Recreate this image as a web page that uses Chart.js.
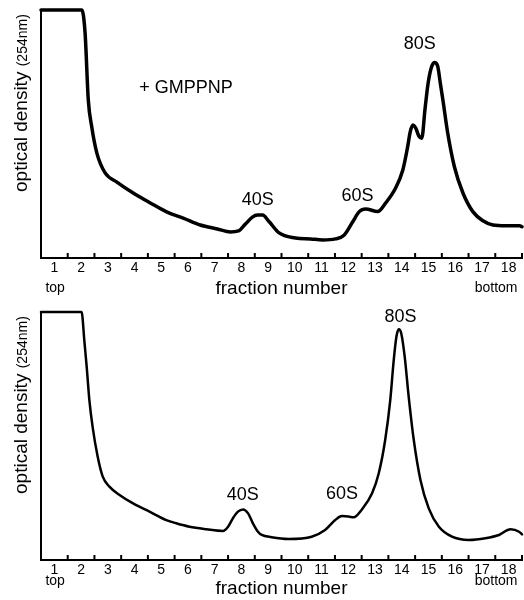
<!DOCTYPE html>
<html>
<head>
<meta charset="utf-8">
<script src="https://cdn.jsdelivr.net/npm/chart.js@4.4.1/dist/chart.umd.min.js"></script>
<style>
  body { margin: 0; background: #fff; }
  canvas { display: block; }
</style>
</head>
<body>
<canvas id="topChart" width="524" height="302"></canvas>
<canvas id="bottomChart" width="524" height="298"></canvas>
<script>
// fractions 1..18, tick marks sit on the boundaries between them
const fractionLabels = ['1', '2', '3', '4', '5', '6', '7', '8', '9', '10', '11', '12', '13', '14', '15', '16', '17', '18'];
const endLabels = ['top', 'bottom'];

// top panel (+ GMPPNP), x in fraction units from the start of the gradient
const topFraction = [0, 1.53, 1.65, 1.77, 1.90, 2.09, 2.40, 2.84, 3.45, 4.09, 4.72, 5.32, 5.96, 6.60, 7.09, 7.39, 7.65, 7.91, 8.10, 8.29, 8.54, 8.91, 9.52, 10.09, 10.54, 11.02, 11.35, 11.66, 11.91, 12.15, 12.60, 12.90, 13.27, 13.54, 13.72, 13.82, 13.92, 14.02, 14.14, 14.25, 14.37, 14.48, 14.60, 14.72, 14.84, 14.95, 15.04, 15.22, 15.47, 15.79, 16.16, 16.54, 16.91, 17.40, 17.91, 18.0];
const topOD = [100, 100, 90.7, 63.7, 52.8, 42.3, 34.3, 30.6, 26.2, 22.2, 18.5, 16.1, 13.3, 11.7, 10.5, 10.9, 13.7, 16.5, 17.3, 17.3, 14.6, 10.1, 8.1, 7.7, 7.3, 7.7, 9.3, 14.5, 18.7, 19.8, 18.7, 22.2, 28.2, 35.5, 44.8, 51.0, 53.6, 52.5, 49.2, 48.3, 60.0, 70.0, 76.5, 78.8, 77.5, 70.0, 63.7, 50.4, 36.8, 26.2, 18.7, 15.0, 13.3, 13.0, 13.0, 12.6];
const topNames = ['40S', '60S', '80S', '+ GMPPNP'];
const topNameX = [8.11, 11.84, 14.17, 5.43];
const topNameY = [23.4, 25.0, 86.1, 68.5];

// bottom panel (control)
const bottomFraction = [0, 1.52, 1.62, 1.71, 1.81, 1.93, 2.12, 2.31, 2.56, 2.94, 3.43, 4.06, 4.69, 5.06, 5.56, 6.19, 6.81, 7.00, 7.18, 7.37, 7.56, 7.75, 7.93, 8.12, 8.26, 8.63, 9.26, 10.13, 10.63, 11.01, 11.26, 11.51, 11.70, 12.01, 12.39, 12.64, 12.88, 13.07, 13.20, 13.30, 13.39, 13.48, 13.61, 13.76, 13.95, 14.20, 14.51, 14.89, 15.38, 16.01, 16.63, 17.14, 17.57, 17.89, 18.0];
const bottomOD = [100, 100, 88.7, 77.9, 64.5, 53.8, 41.7, 33.6, 29.6, 26.2, 22.9, 19.5, 16.1, 14.8, 13.4, 12.4, 11.7, 13.4, 16.8, 19.5, 20.4, 18.8, 14.8, 11.4, 10.1, 9.2, 8.5, 9.4, 12.1, 16.1, 17.7, 17.5, 17.2, 20.4, 26.9, 35.0, 48.4, 64.5, 80.6, 90.0, 93.0, 91.4, 82.0, 65.8, 48.4, 32.3, 20.8, 13.4, 9.4, 8.1, 8.8, 10.1, 12.4, 11.4, 10.3];
const bottomNames = ['40S', '60S', '80S'];
const bottomNameX = [7.55, 11.26, 13.45];
const bottomNameY = [26.2, 26.4, 97.8];

const FONT = '"Liberation Sans", Arial, Helvetica, sans-serif';
Chart.defaults.font.family = FONT;
Chart.defaults.color = '#000';

const notesPlugin = {
    id: 'notes',
    afterDraw(chart, args, opts) {
        const { ctx, chartArea } = chart;
        const x = chart.scales.x;
        const y = chart.scales.y;
        ctx.save();
        ctx.fillStyle = '#000';
        ctx.strokeStyle = '#000';

        // tick marks pointing into the plot
        ctx.lineWidth = 2;
        for (let i = 1; i <= fractionLabels.length; i++) {
            const px = x.getPixelForValue(i);
            ctx.beginPath();
            ctx.moveTo(px, chartArea.bottom);
            ctx.lineTo(px, chartArea.bottom - 5);
            ctx.stroke();
        }

        // peak names
        ctx.textAlign = 'center';
        ctx.textBaseline = 'middle';
        ctx.font = '18px ' + FONT;
        opts.names.forEach((n, i) => {
            ctx.fillText(n, x.getPixelForValue(opts.nameX[i]), y.getPixelForValue(opts.nameY[i]));
        });

        // top / bottom of the gradient
        ctx.font = '14px ' + FONT;
        ctx.fillText(endLabels[0], x.getPixelForValue(0.53), chartArea.bottom + opts.endOffset);
        ctx.fillText(endLabels[1], x.getPixelForValue(17.03), chartArea.bottom + opts.endOffset);

        // y axis title, two sizes
        ctx.translate(27, chartArea.top + 182);
        ctx.rotate(-Math.PI / 2);
        ctx.textAlign = 'left';
        ctx.textBaseline = 'alphabetic';
        ctx.font = '19px ' + FONT;
        const main = 'optical density ';
        ctx.fillText(main, 0, 0);
        const w = ctx.measureText(main).width;
        ctx.font = '14px ' + FONT;
        ctx.fillText('(254nm)', w, 0);
        ctx.restore();
    }
};

function makeChart(id, xs, ys, lineWidth, notes, axisHeight, titlePad) {
    const ctx = document.getElementById(id).getContext('2d');
    return new Chart(ctx, {
        type: 'line',
        data: {
            datasets: [{
                data: xs.map((v, i) => ({ x: v, y: ys[i] })),
                borderColor: '#000',
                borderWidth: lineWidth,
                pointRadius: 0,
                fill: false,
                cubicInterpolationMode: 'monotone',
                borderJoinStyle: 'round',
                borderCapStyle: 'round',
                clip: false
            }]
        },
        options: {
            responsive: false,
            animation: false,
            events: [],
            layout: { padding: { left: 41, right: 2, top: 10, bottom: 0 } },
            plugins: {
                legend: { display: false },
                tooltip: { enabled: false },
                notes: notes
            },
            scales: {
                x: {
                    type: 'linear',
                    min: 0,
                    max: 18,
                    afterBuildTicks: s => {
                        s.ticks = fractionLabels.map((t, i) => ({ value: i + 0.5 }));
                    },
                    afterFit: s => { s.height = axisHeight; },
                    grid: { display: false, drawTicks: false },
                    border: { color: '#000', width: 2 },
                    ticks: {
                        autoSkip: false,
                        maxRotation: 0,
                        padding: 2,
                        font: { size: 14 },
                        color: '#000',
                        callback: (v, i) => fractionLabels[i]
                    },
                    title: {
                        display: true,
                        text: 'fraction number',
                        color: '#000',
                        font: { size: 19 },
                        padding: titlePad
                    }
                },
                y: {
                    min: 0,
                    max: 100,
                    afterFit: s => { s.width = 0; },
                    grid: { display: false, drawTicks: false },
                    border: { color: '#000', width: 2 },
                    ticks: { display: false }
                }
            }
        },
        plugins: [notesPlugin]
    });
}

makeChart('topChart', topFraction, topOD, 3.5,
    { names: topNames, nameX: topNameX, nameY: topNameY, endOffset: 30 }, 44, { top: 0, bottom: 2 });
makeChart('bottomChart', bottomFraction, bottomOD, 2.5,
    { names: bottomNames, nameX: bottomNameX, nameY: bottomNameY, endOffset: 21 }, 40, { top: 0, bottom: 0 });
</script>
</body>
</html>
